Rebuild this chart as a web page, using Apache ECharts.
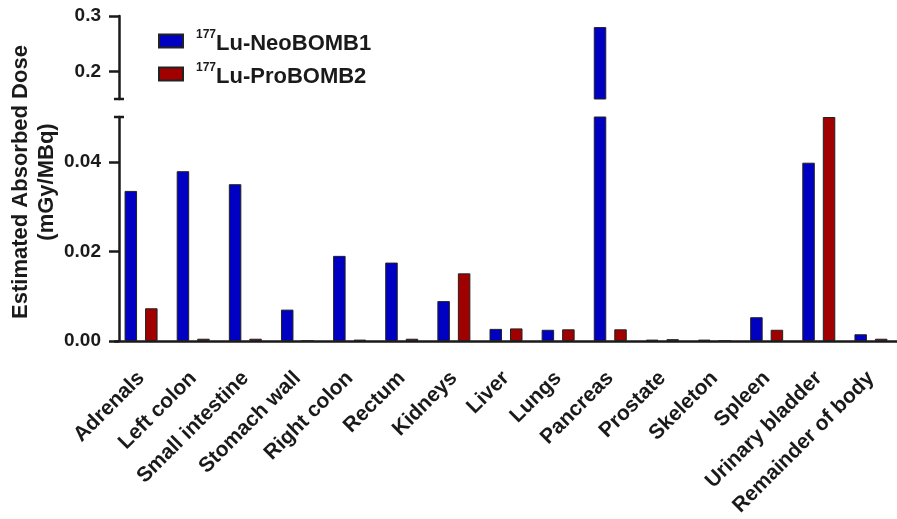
<!DOCTYPE html>
<html>
<head>
<meta charset="utf-8">
<script src="https://cdn.jsdelivr.net/npm/echarts@6/dist/echarts.min.js"></script>
<style>html,body{margin:0;padding:0;background:#fff}#c{width:897px;height:519px}</style>
</head>
<body>
<div id="c"></div>
<script>
var categories = ['Adrenals','Left colon','Small intestine','Stomach wall','Right colon','Rectum','Kidneys','Liver','Lungs','Pancreas','Prostate','Skeleton','Spleen','Urinary bladder','Remainder of body'];
var neoBOMB1 = [0.0335, 0.0379, 0.0350, 0.0070, 0.0190, 0.0175, 0.0089, 0.0027, 0.0025, 0.280, 0.0003, 0.0003, 0.0053, 0.0398, 0.0015];
var proBOMB2 = [0.0073, 0.0005, 0.0005, 0, 0.0003, 0.0005, 0.0151, 0.0028, 0.0026, 0.0026, 0.0004, 0, 0.0025, 0.050, 0.0005];
var seriesNames = ['Lu-NeoBOMB1', 'Lu-ProBOMB2'];
var isotope = '177';
var lowerTicks = [0, 0.02, 0.04];
var upperTicks = [0.2, 0.3];
var yTitle = 'Estimated Absorbed Dose\n(mGy/MBq)';

var FONT = '"Liberation Sans", Arial, sans-serif';
var INK = '#1a1a1a';
var BLUE = '#0000c2';
var RED = '#a00000';

var chart = echarts.init(document.getElementById('c'), null, {renderer: 'canvas'});

function yAxisCfg(gridIndex, min, max, ticks, digits, capAt) {
  return {
    type: 'value', gridIndex: gridIndex, min: min, max: max, offset: -4,
    splitLine: {show: false},
    axisLine: {show: true, lineStyle: {color: INK, width: 2.5},
      symbol: capAt === 'top' ? ['none', 'rect'] : ['rect', 'none'],
      symbolSize: [10, 2.5], symbolOffset: [0, 0]},
    axisTick: {show: true, length: 10, lineStyle: {color: INK, width: 2.5}, customValues: ticks},
    axisLabel: {color: INK, fontSize: 19, fontWeight: 'bold', fontFamily: FONT, margin: 18,
      customValues: ticks, formatter: function (v) { return v.toFixed(digits); }}
  };
}

function barSeries(name, data, color, axisIndex) {
  return {
    name: name, type: 'bar', data: data,
    xAxisIndex: axisIndex, yAxisIndex: axisIndex,
    barWidth: 12.5, barGap: '64%', clip: true,
    itemStyle: {color: color, borderColor: '#222', borderWidth: 1},
    emphasis: {disabled: true}
  };
}

chart.setOption({
  animation: false,
  textStyle: {fontFamily: FONT},
  grid: [
    {left: 115, right: -4, top: 117, height: 224},
    {left: 115, right: -4, top: 16, height: 83}
  ],
  xAxis: [
    {type: 'category', gridIndex: 0, data: categories, boundaryGap: true,
      axisLine: {lineStyle: {color: INK, width: 2.5}},
      axisTick: {alignWithLabel: true, length: 10, lineStyle: {color: INK, width: 2.5}},
      axisLabel: {rotate: 45, interval: 0, color: INK, fontSize: 21, fontWeight: 'bold', fontFamily: FONT, margin: 34}},
    {type: 'category', gridIndex: 1, data: categories, boundaryGap: true, show: false}
  ],
  yAxis: [
    yAxisCfg(0, 0, 0.05, lowerTicks, 2, 'top'),
    yAxisCfg(1, 0.15, 0.3, upperTicks, 1, 'bottom')
  ],
  legend: {
    data: seriesNames, orient: 'vertical', left: 158, top: 27, padding: 0,
    itemWidth: 24, itemHeight: 13, itemGap: 5, icon: 'rect',
    formatter: function (n) { return '{sup|' + isotope + '}{main|' + n + '}'; },
    textStyle: {color: INK, fontFamily: FONT,
      rich: {
        sup: {fontSize: 12, fontWeight: 'bold', fontFamily: FONT, color: INK, verticalAlign: 'top', lineHeight: 24, padding: [0, 0, 0, 8]},
        main: {fontSize: 22, fontWeight: 'bold', fontFamily: FONT, color: INK, lineHeight: 24, padding: [6, 0, 0, 0]}
      }}
  },
  graphic: [{
    type: 'text', x: 34, y: 182, rotation: Math.PI / 2,
    style: {text: yTitle, fill: INK, fontSize: 22, fontWeight: 'bold', fontFamily: FONT,
      align: 'center', verticalAlign: 'middle', lineHeight: 26}
  }],
  series: [
    barSeries(seriesNames[0], neoBOMB1, BLUE, 0),
    barSeries(seriesNames[1], proBOMB2, RED, 0),
    barSeries(seriesNames[0], neoBOMB1, BLUE, 1),
    barSeries(seriesNames[1], proBOMB2, RED, 1)
  ]
});
</script>
</body>
</html>
